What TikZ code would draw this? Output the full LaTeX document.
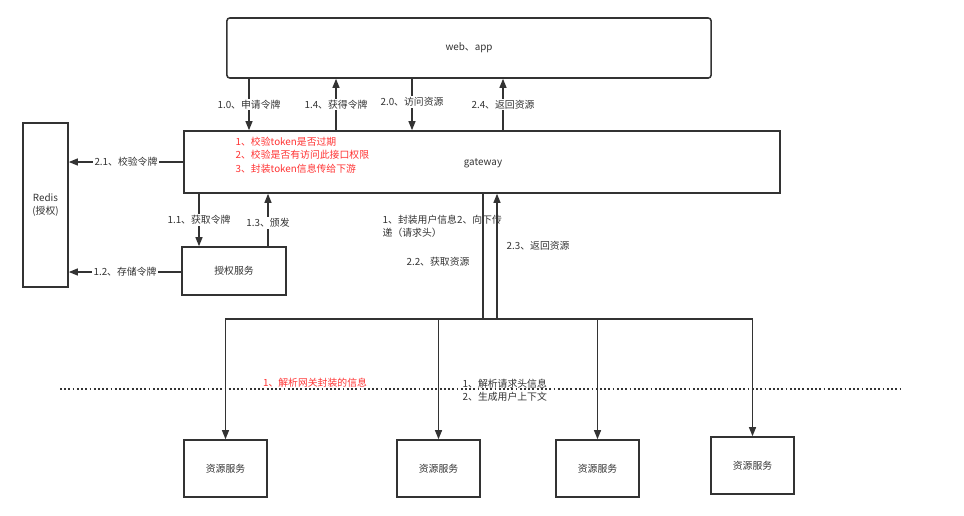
\documentclass[tikz,border=0pt]{standalone}
\usepackage{fontspec}
\setmainfont{Noto Sans CJK SC}
\usepackage{tikz}
\usetikzlibrary{arrows.meta,positioning,calc}
\definecolor{linegray}{HTML}{333333}
\definecolor{textgray}{HTML}{333333}
\definecolor{notered}{HTML}{FF3333}

\begin{document}
\begin{tikzpicture}[
  x=0.025cm, y=-0.025cm,
  box/.style={draw=linegray, line width=1.1pt, fill=white, font=\fontsize{7}{9}\selectfont, text=textgray, align=center, inner sep=0pt},
  arr/.style={draw=linegray, line width=1pt, -{Triangle[length=6.5pt,width=5pt]}},
  lbl/.style={font=\fontsize{7}{9.5}\selectfont, text=textgray, inner sep=1pt},
  onl/.style={lbl, fill=white},
  redlbl/.style={lbl, text=notered},
]
\useasboundingbox (0,0) rectangle (964,515);

% main boxes
\node[box, rounded corners=2pt, minimum width=12.1cm, minimum height=1.5cm] (web) at (469,48) {web、app};
\node[box, minimum width=14.9cm, minimum height=1.55cm] (gw) at (482,162) {};
\node[lbl] (gwtxt) at (483,163) {gateway};
\node[box, minimum width=1.125cm, minimum height=4.1cm] (redis) at (45.5,205) {Redis\\(授权)};
\node[box, minimum width=2.6cm, minimum height=1.2cm] (auth) at (234,271) {授权服务};

% resource services
\node[box, minimum width=2.075cm, minimum height=1.425cm] (res1) at (225.5,468.5) {资源服务};
\node[box, minimum width=2.075cm, minimum height=1.425cm] (res2) at (438.5,468.5) {资源服务};
\node[box, minimum width=2.075cm, minimum height=1.425cm] (res3) at (597.5,468.5) {资源服务};
\node[box, minimum width=2.075cm, minimum height=1.425cm] (res4) at (752.5,465.5) {资源服务};

% web <-> gateway
\draw[arr] (web.south -| 249,0) -- node[onl] {1.0、申请令牌} (gw.north -| 249,0);
\draw[arr] (gw.north -| 336,0) -- node[onl] {1.4、获得令牌} (web.south -| 336,0);
\draw[arr] (web.south -| 412,0) -- node[onl, yshift=2pt] {2.0、访问资源} (gw.north -| 412,0);
\draw[arr] (gw.north -| 503,0) -- node[onl] {2.4、返回资源} (web.south -| 503,0);

% gateway / auth -> redis
\draw[arr] (gw.west |- 0,162) -- node[onl] {2.1、校验令牌} (redis.east |- 0,162);
\draw[arr] (auth.west |- 0,272) -- node[onl] {1.2、存储令牌} (redis.east |- 0,272);

% gateway <-> auth
\draw[arr] (gw.south -| 199,0) -- node[onl] {1.1、获取令牌} (auth.north -| 199,0);
\draw[arr] (auth.north -| 268,0) -- node[onl, yshift=-2pt] {1.3、颁发} (gw.south -| 268,0);

% gateway <-> resources
\coordinate (bus) at (483,319);
\coordinate (busr) at (497,319);
\draw[arr] (gw.south -| bus) -- (bus) -| (res1.north);
\draw[arr] (bus) -| (res2.north);
\draw[arr] (bus) -| (res3.north);
\draw[arr] (bus) -| (res4.north);
\draw[arr] (busr) -- (gw.south -| busr);

% boundary line
\coordinate (dl) at (60,389);
\coordinate (dr) at (900,389);
\draw[linegray, line width=1.2pt, dash pattern=on 1.3pt off 1.7pt] (dl) -- (dr);

% notes
\node[redlbl, anchor=west, align=left] (gwnote) at (234,155) {1、校验token是否过期\\2、校验是否有访问此接口权限\\3、封装token信息传给下游};
\node[lbl, anchor=north west, align=left] (hdrnote) at (381,213) {1、封装用户信息2、向下传\\递（请求头）};
\node[lbl] (get) at (438,262) {2.2、获取资源};
\node[lbl, anchor=west] (ret) at (505,246) {2.3、返回资源};
\node[redlbl] (resnote1) at (315,383) {1、解析网关封装的信息};
\node[lbl, anchor=west, align=left] (resnote2) at (461,390) {1、解析请求头信息\\2、生成用户上下文};
\end{tikzpicture}
\end{document}
